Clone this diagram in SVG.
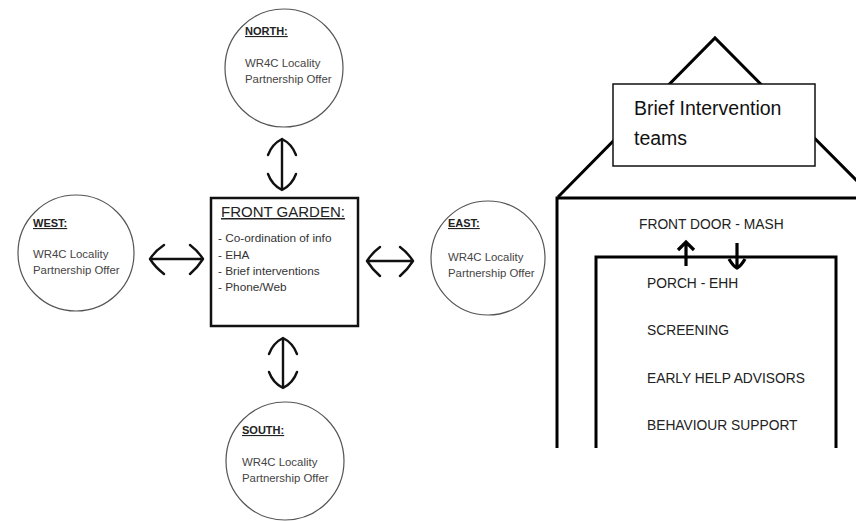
<svg xmlns="http://www.w3.org/2000/svg" width="856" height="521" viewBox="0 0 856 521">
<style>
.circ{fill:#fff;stroke:#555;stroke-width:1.2}
.ttl{font-family:"Liberation Sans",Arial,sans-serif;font-size:11px;font-weight:bold;fill:#222;text-decoration:underline}
.ct{font-family:"Liberation Sans",Arial,sans-serif;font-size:11.4px;fill:#444}
.fg{font-family:"Liberation Sans",Arial,sans-serif;font-size:11.8px;fill:#333}
.hs{font-family:"Liberation Sans",Arial,sans-serif;font-size:13.8px;fill:#222}
.bi{font-family:"Liberation Sans",Arial,sans-serif;font-size:19.5px;fill:#111}
.ar{fill:none;stroke:#111;stroke-width:2.4;stroke-linecap:round;stroke-linejoin:round}
.ha{fill:none;stroke:#000;stroke-width:3.2;stroke-linecap:butt;stroke-linejoin:miter}
.wall{fill:none;stroke:#000;stroke-width:3}
</style>
<rect width="856" height="521" fill="#fff"/>

<g id="north">
<circle class="circ" cx="284" cy="68" r="59"/>
<text class="ttl" x="245" y="35">NORTH:</text>
<text class="ct" x="245" y="67">WR4C Locality</text>
<text class="ct" x="245" y="83">Partnership Offer</text>
</g>

<g id="west">
<circle class="circ" cx="76" cy="253" r="58"/>
<text class="ttl" x="33" y="227">WEST:</text>
<text class="ct" x="33" y="258">WR4C Locality</text>
<text class="ct" x="33" y="274">Partnership Offer</text>
</g>

<g id="east">
<circle class="circ" cx="488" cy="258" r="57"/>
<text class="ttl" x="448" y="227">EAST:</text>
<text class="ct" x="448" y="261">WR4C Locality</text>
<text class="ct" x="448" y="277">Partnership Offer</text>
</g>

<g id="south">
<circle class="circ" cx="285" cy="461" r="59"/>
<text class="ttl" x="242" y="434">SOUTH:</text>
<text class="ct" x="242" y="466">WR4C Locality</text>
<text class="ct" x="242" y="482">Partnership Offer</text>
</g>

<g id="front-garden">
<rect x="211" y="198" width="147" height="128" fill="#fff" stroke="#111" stroke-width="2.5"/>
<text x="221" y="217" font-family="'Liberation Sans',Arial,sans-serif" font-size="15" fill="#222" text-decoration="underline">FRONT GARDEN:</text>
<text class="fg" x="218" y="242">- Co-ordination of info</text>
<text class="fg" x="218" y="259">- EHA</text>
<text class="fg" x="218" y="275">- Brief interventions</text>
<text class="fg" x="218" y="291">- Phone/Web</text>
</g>

<g id="connectors">
<path class="ar" d="M282,139 V189 M268,155 Q272,144 282,139 Q292,144 296,155 M268,174 Q272,185 282,190 Q292,185 296,174"/>
<path class="ar" d="M283,339 V387 M269,354 Q273,343 283,338 Q293,343 297,354 M269,372 Q273,383 283,388 Q293,383 297,372"/>
<path class="ar" d="M151,259 H202 M164,245 Q155,251 150,259 Q155,267 164,274 M190,245 Q198,251 203,259 Q198,267 190,274"/>
<path class="ar" d="M368,261 H412 M380,247 Q372,253 367,261 Q372,269 380,276 M400,247 Q408,253 413,261 Q408,269 400,276"/>
</g>

<g id="house">
<path class="wall" d="M558,197 L715,38 L857,181" stroke-width="2.6"/>
<path class="wall" d="M557,448 V198 H856"/>
<path class="wall" d="M596,448 V257 H836 V448"/>
<text class="hs" x="639" y="229">FRONT DOOR - MASH</text>
<path class="ha" d="M686,266 V242 M678,250 L686,242 L694,250"/>
<path class="ha" d="M737,243 V267 M729,259 Q733,266 737,268 Q741,266 745,259"/>
<text class="hs" x="647" y="288">PORCH - EHH</text>
<text class="hs" x="647" y="335">SCREENING</text>
<text class="hs" x="647" y="383">EARLY HELP ADVISORS</text>
<text class="hs" x="647" y="430">BEHAVIOUR SUPPORT</text>
</g>

<g id="brief-intervention">
<rect x="613" y="84" width="202" height="82" fill="#fff" stroke="#111" stroke-width="1.5"/>
<text class="bi" x="634" y="115">Brief Intervention</text>
<text class="bi" x="634" y="145">teams</text>
</g>
</svg>
